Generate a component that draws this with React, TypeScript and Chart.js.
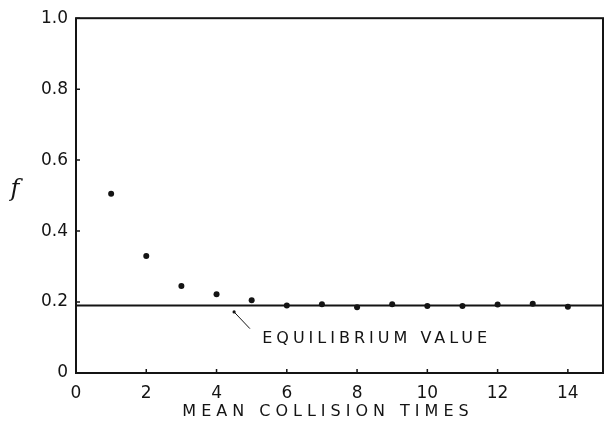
import React, { useEffect, useRef } from "react";
import { Chart, registerables } from "chart.js";

Chart.register(...registerables);

// Collision times (in mean collision times) and the fraction f at each step
const collisionTimes = [1, 2, 3, 4, 5, 6, 7, 8, 9, 10, 11, 12, 13, 14];
const fValues = [0.505, 0.33, 0.245, 0.222, 0.205, 0.19, 0.194, 0.185, 0.194, 0.189, 0.189, 0.193, 0.195, 0.187];
const equilibriumValue = 0.19;

const xTickValues = [0, 2, 4, 6, 8, 10, 12, 14];
const yTickValues = [0, 0.2, 0.4, 0.6, 0.8, 1.0];
const yTickLabels = ["0", "0.2", "0.4", "0.6", "0.8", "1.0"];

const xAxisTitle = "MEAN COLLISION TIMES";
const yAxisTitle = "f";
const equilibriumLabel = "EQUILIBRIUM VALUE";

const INK = "#141414";
const FONT = '"DejaVu Sans", sans-serif';

// Frame, inner tick marks, axis titles and the equilibrium callout
const decorations = {
  id: "decorations",
  afterDraw(chart: any) {
    const { ctx, chartArea, scales } = chart;
    const xs = scales.x;
    const ys = scales.y;
    ctx.save();
    ctx.strokeStyle = INK;
    ctx.lineWidth = 2;
    ctx.strokeRect(chartArea.left, chartArea.top, chartArea.right - chartArea.left, chartArea.bottom - chartArea.top);

    // inner tick marks
    ctx.lineWidth = 1.5;
    ctx.beginPath();
    for (const v of yTickValues) {
      const py = ys.getPixelForValue(v);
      ctx.moveTo(chartArea.left, py);
      ctx.lineTo(chartArea.left + 4, py);
    }
    for (const v of xTickValues) {
      const px = xs.getPixelForValue(v);
      ctx.moveTo(px, chartArea.bottom);
      ctx.lineTo(px, chartArea.bottom - 4);
    }
    ctx.stroke();

    // callout leader line
    const x0 = xs.getPixelForValue(4.5);
    const y0 = ys.getPixelForValue(0.172);
    const x1 = xs.getPixelForValue(4.95);
    const y1 = ys.getPixelForValue(0.125);
    ctx.lineWidth = 1;
    ctx.beginPath();
    ctx.moveTo(x0, y0);
    ctx.lineTo(x1, y1);
    ctx.stroke();
    ctx.fillStyle = INK;
    ctx.beginPath();
    ctx.arc(x0, y0, 1.6, 0, Math.PI * 2);
    ctx.fill();

    // callout text
    ctx.font = `16px ${FONT}`;
    (ctx as any).letterSpacing = "4px";
    ctx.textAlign = "left";
    ctx.textBaseline = "middle";
    ctx.fillText(equilibriumLabel, xs.getPixelForValue(5.3), ys.getPixelForValue(0.097));

    // x axis title
    (ctx as any).letterSpacing = "5px";
    ctx.font = `16px ${FONT}`;
    ctx.textAlign = "center";
    ctx.fillText(xAxisTitle, 328, 412);

    // y axis title
    (ctx as any).letterSpacing = "0px";
    ctx.font = `italic 24px "DejaVu Serif", serif`;
    ctx.fillText(yAxisTitle, 15, 190);
    ctx.restore();
  },
};

export default function App() {
  const canvasRef = useRef<HTMLCanvasElement>(null);

  useEffect(() => {
    const canvas = canvasRef.current;
    if (!canvas) return;
    const chart = new Chart(canvas, {
      type: "scatter",
      data: {
        datasets: [
          {
            label: "f",
            data: collisionTimes.map((t, i) => ({ x: t, y: fValues[i] })),
            backgroundColor: INK,
            borderColor: INK,
            pointRadius: 3,
            pointBorderWidth: 0,
          },
          {
            type: "line",
            label: "equilibrium",
            data: [
              { x: 0, y: equilibriumValue },
              { x: 15, y: equilibriumValue },
            ],
            borderColor: INK,
            borderWidth: 2,
            pointRadius: 0,
          } as any,
        ],
      },
      options: {
        animation: false,
        responsive: false,
        devicePixelRatio: 1,
        layout: { padding: { top: 13, right: 1, left: 0, bottom: 0 } },
        plugins: { legend: { display: false }, tooltip: { enabled: false } },
        scales: {
          x: {
            type: "linear",
            min: 0,
            max: 15,
            afterFit: (s: any) => {
              s.height = 57;
            },
            grid: { display: false, drawTicks: false },
            border: { display: false },
            ticks: {
              stepSize: 2,
              includeBounds: false,
              padding: 10,
              color: INK,
              font: { family: FONT, size: 17 },
              callback: (v: any) => String(v),
            },
          },
          y: {
            type: "linear",
            min: 0,
            max: 1,
            afterFit: (s: any) => {
              s.width = 76;
            },
            grid: { display: false, drawTicks: false },
            border: { display: false },
            ticks: {
              stepSize: 0.2,
              padding: 8,
              color: INK,
              font: { family: FONT, size: 17 },
              callback: (v: any) => {
                const i = yTickValues.findIndex((t) => Math.abs(t - Number(v)) < 1e-6);
                return i >= 0 ? yTickLabels[i] : "";
              },
            },
          },
        },
      },
      plugins: [decorations],
    });
    return () => chart.destroy();
  }, []);

  return (
    <div style={{ position: "absolute", left: 0, top: 0, width: 607, height: 430, background: "#fff" }}>
      <canvas ref={canvasRef} width={607} height={430} />
    </div>
  );
}
